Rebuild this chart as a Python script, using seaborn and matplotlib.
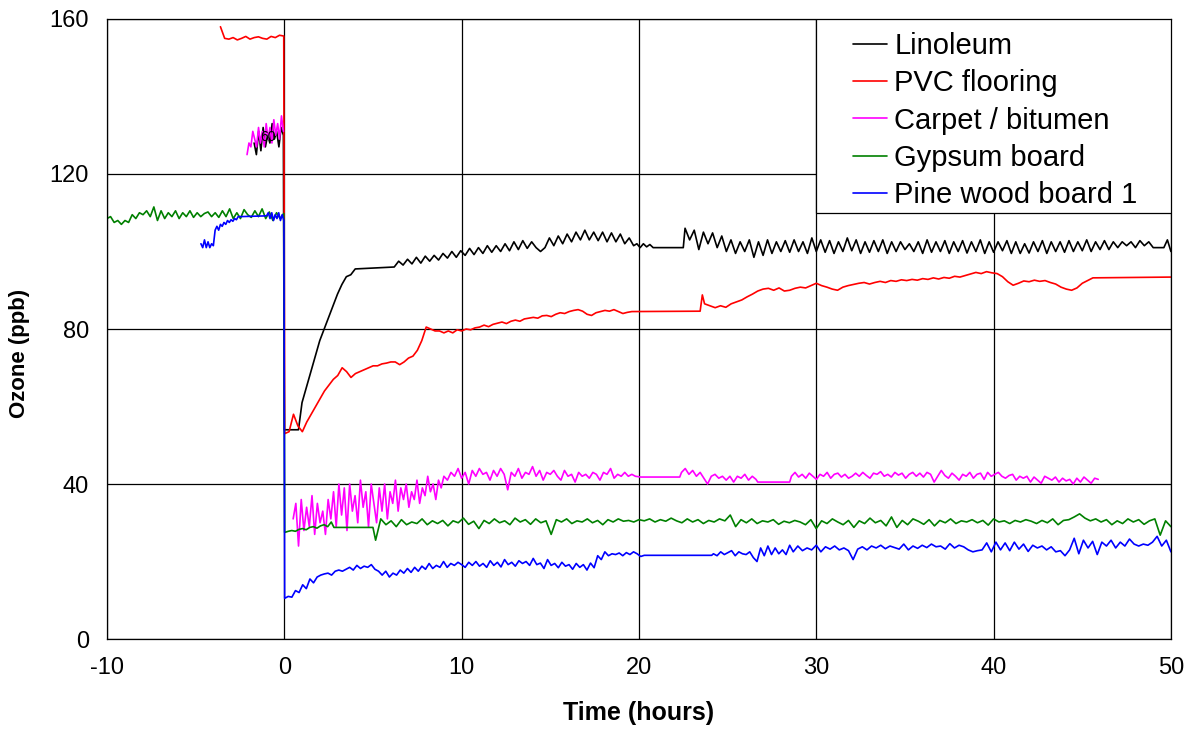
import numpy as np
import pandas as pd
import matplotlib
matplotlib.use("Agg")
import matplotlib.pyplot as plt
import seaborn as sns
from matplotlib.patches import Rectangle

# ==========================================
# データ: (開始時刻, 終了時刻, 測定値) の区間ごと。区間内は等間隔サンプル
# ==========================================
lino_pre = (-1.7, -0.05, [128, 125, 131, 126, 132, 127, 130, 128, 133, 129, 131, 127, 132, 130])
lino_drop = (0.0, 0.8, [54, 54])
lino_rise = (1.0, 4.0, [61, 65, 69, 73, 77, 80, 83, 86, 89, 91.5, 93.5, 94, 95.5])
lino_osc1 = (6.2, 19.45, [96, 97.5, 96.5, 98, 96.8, 98.5, 97, 98.8, 97.5, 99, 97.8, 99.5, 98.3, 100,
                          98.5, 100.2, 99, 100.8, 99.2, 101, 99.5, 101.5, 99.8, 101.5, 100, 102, 100.2,
                          102.5, 100.5, 102.8, 100.8, 102.5, 101, 100, 101, 103.5, 101.5, 104, 102, 104.5,
                          102.5, 105, 103, 105.5, 103, 105, 102.8, 105, 102.5, 104.8, 102.5, 104.5, 102, 103.5])
lino_dense = (19.7, 20.8, [101.5, 102, 101, 102, 101.2, 101.8, 101])
lino_gap_end = (22.5, 22.5, [101])
lino_osc2 = (22.6, 27.0, [106, 103, 105.5, 100.5, 105, 102, 104.8, 101, 104, 100, 103, 99.5, 102.5, 100,
                          103, 98.5, 102.5, 99])
lino_osc3 = (27.25, 49.0, [103, 99.5, 102.5, 100, 102.8, 99.8, 103, 100, 102.5, 99.5, 103.5, 100, 103, 99.8,
                           102.8, 99.5, 102.5, 100, 103.5, 100.2, 103, 99.5, 102.5, 99.8, 102.8, 100, 103,
                           99.5, 102.5, 100, 102.5, 100.5, 102, 100, 102.5, 99.5, 103, 99.8, 102.5, 100,
                           102.8, 99.5, 102.5, 100, 102.8, 99.6, 102.5, 100, 103, 99.5, 102.5, 99.8, 102.5,
                           100.2, 102.8, 99.5, 102.5, 99.5, 102, 99.6, 102.5, 100, 102.8, 99.5, 102.5, 100,
                           102.5, 99.8, 102.8, 100, 102.5, 100.2, 103, 100, 102.5, 100.5, 102.8, 100.5,
                           102.5, 101, 102.5, 101.5, 102.5, 101, 102.8, 101.5, 102.5, 101])
lino_tail = (49.6, 50.0, [101, 103, 100])

pvc_pre = (-3.6, -0.03, [158, 155, 154.8, 155.2, 154.6, 155, 155.5, 154.8, 155.2, 155.4, 155, 154.8,
                         155.5, 155.2, 155.8, 155.6])
pvc_rise = (0.02, 9.5, [53, 53.5, 58, 55, 53.5, 56, 58, 60, 62, 64, 65.5, 67, 68, 70, 69, 67.5, 68.5, 69,
                        69.5, 70, 70.5, 70.5, 71, 71.2, 71.5, 71.5, 70.8, 71.5, 72.5, 73, 74.5, 77, 80.5,
                        80, 79.5, 79.5, 79, 79.5, 79])
pvc_mid = (9.75, 19.6, [79.8, 79.5, 80, 79.8, 80.3, 80.5, 81, 80.6, 81.2, 81.5, 81.8, 81.4, 82, 82.3, 82,
                        82.6, 82.8, 83, 82.8, 83.4, 83.5, 83.2, 83.8, 84.2, 84, 84.5, 84.8, 85, 84.6, 83.8,
                        83.5, 84.2, 84.5, 84.8, 84.6, 85, 84.5, 84, 84.3, 84.5])
pvc_step = (23.45, 23.7, [84.6, 88.8, 86.5])
pvc_late = (24.0, 45.6, [86, 85.5, 86, 85.6, 86.5, 87, 87.5, 88.3, 89, 89.8, 90.3, 90.5, 90, 90.6, 89.8, 90,
                         90.5, 90.8, 90.6, 91.2, 91.8, 91.2, 90.8, 90.3, 90, 90.8, 91.2, 91.5, 91.8, 92,
                         91.6, 92, 92.3, 92, 92.5, 92.3, 92.7, 92.5, 92.8, 92.6, 93, 92.8, 93.2, 92.9, 93.3,
                         93.1, 93.6, 93.4, 93.8, 94.2, 94.6, 94.3, 94.8, 94.5, 94.3, 93.5, 92.2, 91.3, 91.8,
                         92.4, 92.2, 92.6, 92.3, 92.5, 92, 91.6, 90.8, 90.3, 90, 90.6, 91.8, 92.5, 93.2])
pvc_tail = (50.0, 50.0, [93.4])

carpet_pre = (-2.1, -0.05, [125, 128, 127, 131, 129, 127, 132, 128, 131, 127, 133, 129, 132, 128, 134, 130,
                            133, 129, 135, 131])
carpet_early = (0.5, 9.0, [31, 35, 24, 36, 28, 34, 29, 37, 27, 35, 30, 33, 27, 36, 31, 38, 29, 40, 32, 39,
                           28, 40, 33, 37, 30, 41, 34, 38, 29, 40, 35, 30, 39, 33, 40, 31, 38, 35, 41, 33,
                           39, 36, 40, 34, 38, 36, 41, 35, 39, 37, 42, 38, 40, 36, 41, 39, 42])
carpet_mid = (9.2, 19.8, [41, 43, 42, 44, 41.5, 43, 40, 43.5, 42, 44, 42.5, 43, 41, 43.5, 42, 44, 42.5, 38.5,
                          43, 42, 44, 41.5, 43, 42.5, 44.5, 42, 43.5, 41, 43, 42.5, 43.5, 42, 41, 43.5, 42,
                          42.5, 40.5, 43, 42, 42.5, 41.5, 43, 42.5, 41, 43, 42.5, 44, 41.5, 42.5, 42, 43, 42,
                          42.5, 42])
carpet_flat1 = (20.1, 22.3, [41.8, 41.8])
carpet_burst = (22.4, 26.6, [43, 44, 42.5, 43.5, 42, 43, 41.5, 40, 42, 42.5, 41.5, 42, 41, 42, 40.5, 42,
                             41.5, 42.5, 41, 42, 41.2])
carpet_flat2 = (26.7, 28.5, [40.5, 40.5])
carpet_late = (28.6, 45.9, [42, 43, 41.8, 42.5, 41.5, 42.8, 42, 41.2, 42.5, 42, 43, 41.5, 42.5, 42.8, 41.8,
                            42.5, 41.5, 42, 42.8, 42, 43, 42.2, 41.5, 42.8, 42.5, 43.2, 42, 42.5, 41.8, 43,
                            42.3, 42.8, 41.5, 42.5, 43, 42, 42.8, 41.8, 43, 42.5, 40.5, 42, 43.5, 42.2, 41.5,
                            42.8, 42, 41, 42.5, 42, 43, 41.5, 42.5, 42.8, 41.2, 43, 42, 42.5, 43, 42, 41.5,
                            42.2, 42.5, 41, 42, 41.5, 42, 40.5, 41.8, 41, 40.2, 42, 41.5, 41, 41.8, 40.5, 41.5,
                            40.8, 41.2, 40, 41.5, 40.5, 41.8, 41, 40.2, 41.5, 41.2])

gyps_pre = (-10.0, -0.03, [108.5, 109, 107.5, 108, 107, 108, 107.5, 109.5, 108.5, 110, 109.5, 110.5, 109,
                           111.5, 108, 110.5, 108.5, 110, 109, 110.5, 108.5, 110, 109, 110.5, 108.8, 110,
                           109, 109.8, 110.2, 109, 110, 108.8, 110.5, 109, 111, 108.5, 110, 108.5, 110.8,
                           109.5, 108.8, 110.5, 109, 111, 108.5, 110.2, 108, 110, 108.5, 109.8])
gyps_rise = (0.02, 2.65, [27.5, 27.8, 28, 27.8, 28.3, 28.5, 28.2, 28.8, 29, 28.6, 29.2, 29.5, 29, 30.2])
gyps_flat = (2.8, 5.0, [28.8, 28.8])
gyps_mid = (5.15, 20.0, [25.5, 31, 29.5, 30.5, 29, 30.8, 29.5, 30.2, 29.8, 31, 29.5, 30.5, 29.8, 30.6, 29.2,
                         30.5, 30, 31.2, 29.6, 30.4, 28.5, 30.6, 29.8, 31, 30, 30.5, 29.5, 31.2, 30.2, 30.8,
                         29.6, 31, 30, 30.5, 27, 30.8, 30.2, 31, 29.8, 30.5, 30.2, 31, 30, 30.6, 29.5, 30.8,
                         30.2, 31, 30.4, 30.6, 30.2, 30.8])
gyps_late = (20.3, 50.0, [30.5, 31, 30.2, 30.8, 30.4, 31.2, 30.5, 30, 31, 30.2, 30.8, 29.8, 30.6, 30.2, 31,
                          30.5, 32, 29, 30.8, 30, 31, 29.8, 30.5, 30.2, 30.8, 29.6, 30.4, 30, 30.6, 30.2,
                          29.5, 30.8, 28.5, 30.5, 29.8, 31, 30.2, 29.5, 30.6, 28.8, 30.5, 29.8, 31.2, 30,
                          30.6, 29.2, 31.5, 28.8, 30.6, 29.5, 31, 30.4, 29.6, 30.8, 29.2, 30.6, 30, 31, 29.8,
                          30.5, 30.2, 30.8, 30, 30.6, 29.4, 31, 30.2, 30.5, 29.8, 30.6, 30.2, 30.8, 30.4,
                          29.8, 30.6, 30, 31, 29.5, 30.6, 30.8, 31.5, 32.3, 31.2, 30.5, 31, 30.2, 30.8, 29.5,
                          30.5, 29.8, 31, 30.2, 30.8, 29.6, 30.5, 31, 26.8, 30.5, 29])

pine_pre1 = (-4.7, -2.5, [102, 101, 103, 101, 102.5, 101, 102, 101.5, 105.5, 106.5, 105.5, 107, 106.5, 107.5,
                          107, 108, 107.5, 108.2, 107.8, 108.5, 108.2, 109, 109])
pine_pre2 = (-1.0, -0.02, [109.2, 110, 108.5, 110, 108, 109.5, 108.5, 110, 108, 109.5, 108])
pine_rise = (0.02, 10.0, [10.5, 11, 10.8, 12.5, 12, 14, 13, 15.5, 14.5, 16, 16.5, 16.8, 17, 16.5, 17.5, 17.8,
                          17.5, 18, 18.5, 17.8, 19, 18.2, 18.8, 18.5, 19.2, 18, 17.5, 16.5, 17.5, 16, 17, 16.5,
                          17.8, 17, 18.2, 17.2, 18.5, 17.5, 18.8, 18, 19.5, 18.2, 19, 18.5, 20, 18.5, 19.5, 19,
                          19.8, 19.2])
pine_mid = (10.2, 20.3, [18.5, 19.8, 19, 20, 18.8, 19.5, 18.5, 20.2, 19, 19.8, 18.6, 20.5, 19.2, 19.8, 18.8,
                         20.2, 19.5, 20, 19, 20.8, 19.2, 19.6, 18.2, 20.5, 19, 19.5, 18.4, 19.8, 18.8, 19.2,
                         18, 19.5, 18.5, 19.2, 17.8, 19.6, 18.4, 21.5, 20.5, 22.5, 21.5, 22, 21.8, 22.2, 21.5,
                         22.3, 21.8, 22.5, 22, 21.3, 21.6])
pine_flat = (24.1, 24.1, [21.6])
pine_burst = (24.2, 28.5, [22, 21.5, 22.5, 21.8, 22.3, 22.8, 21.5, 22.5, 22, 21.8, 22.5, 21, 20, 23.5, 21.5,
                           24, 21.8, 23.5, 22, 23, 21.8, 24.2])
pine_late = (28.7, 50.0, [22.5, 24, 22.8, 23.5, 23, 24.2, 22.5, 23.8, 23.2, 24, 23, 23.5, 22.8, 20.5, 23.2,
                          23.8, 23, 24, 23.5, 24.2, 23.3, 24, 23.6, 23.2, 24.5, 23, 24, 23.4, 24.2, 23.6, 24.5,
                          23.8, 24, 23.2, 24.6, 23.5, 24.2, 23.8, 23, 22.5, 22.8, 23, 24.8, 22.5, 25, 23, 24.8,
                          22.8, 25, 23.2, 24.5, 22.6, 24.2, 23.5, 24, 23, 23.8, 22.5, 22.8, 21.5, 23, 26, 22,
                          25.5, 23.5, 25.2, 21.8, 25, 24, 25.5, 23.5, 25, 24, 25.8, 24.5, 24, 24.5, 24.2, 25,
                          26.5, 24, 25.5, 22.5])

materials = ["Linoleum", "PVC flooring", "Carpet / bitumen", "Gypsum board", "Pine wood board 1"]
colors = ["#000000", "#FF0000", "#FF00FF", "#008000", "#0000FF"]

# 各材料 -> 連続した線(run)のリスト
runs = {
    "Linoleum": [[lino_pre, lino_drop, lino_rise, lino_osc1, lino_dense, lino_gap_end, lino_osc2,
                  lino_osc3, lino_tail]],
    "PVC flooring": [[pvc_pre, pvc_rise, pvc_mid, pvc_step, pvc_late, pvc_tail]],
    "Carpet / bitumen": [[carpet_pre],
                         [carpet_early, carpet_mid, carpet_flat1, carpet_burst, carpet_flat2, carpet_late]],
    "Gypsum board": [[gyps_pre, gyps_rise, gyps_flat, gyps_mid, gyps_late]],
    "Pine wood board 1": [[pine_pre1, pine_pre2, pine_rise, pine_mid, pine_flat, pine_burst, pine_late]],
}


def build_frame():
    frames = []
    for name in materials:
        for k, run in enumerate(runs[name]):
            t = np.concatenate([np.linspace(a, b, len(v)) for a, b, v in run])
            y = np.concatenate([np.asarray(v, dtype=float) for a, b, v in run])
            frames.append(pd.DataFrame({"time": t, "ozone": y, "material": name,
                                        "unit": f"{name}_{k}"}))
    return pd.concat(frames, ignore_index=True)


df = build_frame()

sns.set_theme(style="white")
plt.rcParams["font.family"] = ["Liberation Sans", "DejaVu Sans"]
plt.rcParams["axes.unicode_minus"] = False
plt.rcParams["text.color"] = "black"
plt.rcParams["axes.labelcolor"] = "black"

fig = plt.figure(figsize=(11.99, 7.33), dpi=100)
ax = fig.add_axes([0.0892, 0.1282, 0.8874, 0.8459])

sns.lineplot(data=df, x="time", y="ozone", hue="material", units="unit", estimator=None,
             sort=False, hue_order=materials, palette=colors, linewidth=1.2, ax=ax)

ax.set_xlim(-10, 50)
ax.set_ylim(0, 160)
ax.set_xticks(range(-10, 51, 10))
ax.set_yticks(range(0, 161, 40))
ax.grid(True, color="black", linewidth=0.9)
ax.set_axisbelow(True)
for s in ax.spines.values():
    s.set_color("black")
    s.set_linewidth(0.9)
ax.tick_params(axis="both", direction="out", length=7, width=0.9, color="black",
               labelsize=17, labelcolor="black", pad=6)
ax.set_xlabel("Time (hours)", fontsize=18, fontweight="bold", labelpad=16, color="black")
ax.set_ylabel("Ozone (ppb)", fontsize=16, fontweight="bold", labelpad=10, color="black")
ax.yaxis.set_label_coords(-0.072, 0.46)

# 図中に残っている「60」の注記
ax.text(-0.9, 129.5, "60", fontsize=10, ha="center", va="center", color="black")

# 凡例: 白い枠 + 枠なし凡例
ax.add_patch(Rectangle((40 / 60, 0.687), 20 / 60, 0.313, transform=ax.transAxes,
                       facecolor="white", edgecolor="black", linewidth=0.9, zorder=4))
handles, labels = ax.get_legend_handles_labels()
for h in handles:
    h.set_linewidth(1.2)
leg = ax.legend(handles, labels, loc="upper left", bbox_to_anchor=(0.701, 0.979),
                frameon=False, fontsize=21, handlelength=1.17, handletextpad=0.25,
                labelspacing=0.32, borderpad=0, borderaxespad=0)
for txt in leg.get_texts():
    txt.set_color("black")
leg.set_zorder(5)

fig.savefig("out.png", dpi=100)
